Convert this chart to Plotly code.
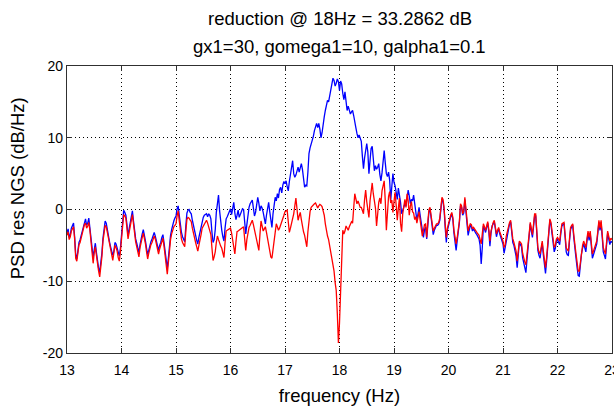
import numpy as np
import plotly.graph_objects as go

# Frequency grid of the PSD estimate (Hz)
freq_start = 13.0
freq_stop = 23.0
n_points = 501
freq = np.round(np.linspace(freq_start, freq_stop, n_points), 2)

# Residual NGS PSD without the vibration controller (dB/Hz), 0.02 Hz bins
psd_open = [
    -3.3, -2.7, -3.9, -3.5, -2.6, -2.1, -1.9, -3.8, -6.3, -6.9,
    -5.2, -4.6, -4.2, -3.6, -3.2, -2.3, -1.6, -1.3, -2.2, -1.9,
    -1.2, -2.5, -4.1, -5.8, -6.7, -5.6, -4.7, -6.0, -7.4, -8.2,
    -8.7, -7.6, -6.1, -4.0, -2.4, -1.6, -1.9, -2.9, -3.8, -4.5,
    -5.2, -5.8, -6.4, -5.8, -4.6, -4.8, -5.4, -6.2, -6.5, -5.4,
    -3.5, -1.5, -0.1, -0.4, -0.8, -2.1, -3.7, -2.7, -1.7, -0.8,
    -0.2, -1.6, -3.3, -4.1, -4.7, -5.6, -6.0, -4.9, -3.9, -3.4,
    -2.8, -3.5, -4.4, -5.4, -6.3, -5.7, -4.9, -4.5, -4.1, -3.5,
    -3.2, -3.7, -4.3, -5.2, -5.7, -5.0, -4.6, -3.9, -3.5, -4.6,
    -6.0, -7.3, -8.2, -6.8, -4.9, -3.6, -2.8, -2.1, -1.6, -1.2,
    -0.9, 0.1, 0.5, -0.8, -2.6, -3.2, -3.8, -4.2, -4.5, -2.3,
    -0.5, -0.1, 0.0, -0.4, -0.6, -1.5, -2.4, -3.1, -3.6, -4.3,
    -4.8, -3.9, -3.2, -2.3, -1.4, -1.1, -0.8, -0.7, -0.6, -1.0,
    -0.6, -0.8, -1.3, -3.2, -4.6, -4.2, -2.8, -0.4, 1.2, 2.0,
    -0.2, -1.8, -2.9, -3.8, -4.4, -2.6, -1.3, -1.0, -0.6, -0.2,
    0.1, -0.7, 0.4, 1.0, -0.5, -1.4, -0.8, -0.1, -1.1, -0.6,
    -0.3, 0.1, 0.0, -1.6, -3.4, -2.1, -0.6, 0.3, 0.8, 1.1,
    1.3, 0.2, -0.9, -0.4, 0.6, 1.7, 0.9, -0.2, 0.5, 0.2,
    -0.4, -1.1, -2.0, -0.8, 0.4, 1.0, -0.3, -1.5, -2.5, -0.6,
    0.4, 1.7, 1.2, 2.2, 1.6, 2.8, 3.1, 2.3, 3.4, 3.9,
    3.6, 4.0, 3.2, 2.6, 3.9, 5.1, 6.2, 6.8, 5.0, 4.5,
    4.8, 5.4, 5.9, 5.2, 6.0, 6.4, 5.6, 4.1, 3.1, 3.4,
    3.3, 5.2, 7.8, 8.6, 9.1, 9.6, 10.2, 11.0, 11.6, 12.0,
    11.4, 12.0, 11.2, 10.0, 10.7, 12.1, 12.9, 13.8, 14.6, 15.2,
    15.0, 15.8, 16.5, 17.4, 18.3, 18.0, 17.2, 17.6, 18.2, 17.8,
    16.6, 17.9, 17.5, 16.2, 15.3, 16.4, 14.5, 13.8, 14.4, 13.9,
    13.3, 13.6, 13.8, 13.1, 12.0, 11.4, 10.6, 10.0, 10.4, 9.8,
    9.5, 7.4, 5.7, 7.2, 8.6, 9.2, 8.0, 5.0, 6.8, 8.5,
    8.8, 7.0, 5.4, 6.1, 5.6, 5.9, 6.4, 4.9, 4.0, 5.1,
    7.4, 8.2, 6.5, 5.0, 4.6, 5.2, 4.1, 1.3, 3.2, 5.0,
    3.8, 3.3, 2.4, 1.4, 3.0, 2.2, 1.0, -0.6, -0.1, 0.5,
    0.8, 0.5, 1.5, 2.7, 1.9, 0.8, 1.4, 1.2, 2.0, 0.6,
    -0.4, -1.5, -0.6, 0.3, -0.8, -1.9, -3.2, -3.9, -2.8, -2.4,
    -4.1, -2.0, -0.4, 0.1, -1.0, -2.5, -3.5, -2.9, -2.5, -2.2,
    -2.2, -2.0, -1.5, 0.2, 1.5, 1.1, -0.1, -2.6, -4.6, -2.9,
    -2.1, -1.6, -1.0, -0.6, -1.4, -3.3, -4.4, -5.7, -4.3, -3.0,
    -1.8, 0.5, 0.3, -0.8, -0.5, 1.4, 0.1, -2.0, -3.6, -2.7,
    -2.2, -2.4, -3.0, -2.7, -3.1, -3.3, -3.5, -3.8, -4.1, -5.0,
    -7.6, -5.3, -2.3, -2.7, -3.2, -2.5, -1.9, -3.1, -5.1, -3.3,
    -2.3, -2.0, -1.7, -2.7, -3.8, -3.1, -2.7, -3.4, -4.0, -4.4,
    -4.8, -6.1, -5.3, -4.0, -3.2, -2.4, -2.0, -1.7, -3.2, -4.6,
    -5.0, -5.8, -6.5, -8.1, -6.4, -4.6, -4.9, -5.2, -6.7, -7.6,
    -8.0, -8.8, -7.0, -5.6, -3.7, -2.0, -3.0, -3.9, -2.4, -0.9,
    -0.9, -3.5, -5.7, -6.4, -6.8, -5.6, -4.7, -6.3, -7.9, -8.9,
    -7.2, -5.7, -3.4, -1.5, -2.1, -3.4, -4.6, -5.9, -5.4, -4.4,
    -4.2, -4.6, -4.9, -3.4, -2.3, -2.1, -2.0, -3.9, -5.9, -6.3,
    -6.4, -4.4, -2.8, -2.4, -2.3, -4.0, -5.8, -6.8, -8.1, -9.2,
    -9.3, -7.6, -6.2, -5.4, -4.8, -5.3, -5.9, -4.5, -3.3, -4.3,
    -3.3, -5.0, -6.8, -6.3, -5.7, -5.3, -4.8, -3.3, -1.8, -2.9,
    -1.8, -3.8, -5.9, -6.4, -6.9, -5.0, -3.3, -4.1, -4.9, -4.4,
    -4.6,
]

# Residual NGS PSD with the controller engaged (dB/Hz), same bins
psd_closed = [
    -3.6, -3.1, -4.2, -3.8, -3.0, -2.6, -2.4, -4.1, -6.8, -7.2,
    -5.6, -4.9, -4.6, -3.9, -3.6, -2.8, -2.1, -1.9, -2.6, -2.3,
    -1.8, -2.9, -4.5, -6.3, -7.5, -6.0, -5.2, -6.4, -7.9, -8.6,
    -9.4, -8.1, -6.6, -4.4, -2.9, -2.2, -2.4, -3.3, -4.2, -4.9,
    -5.6, -6.3, -7.1, -6.2, -5.0, -5.3, -5.8, -6.7, -7.2, -5.9,
    -4.0, -2.1, -0.7, -0.9, -1.2, -2.6, -4.1, -3.2, -2.2, -1.3,
    -0.7, -2.0, -3.8, -4.5, -5.2, -6.1, -6.6, -5.3, -4.4, -3.9,
    -3.3, -3.9, -4.8, -5.9, -6.9, -6.1, -5.4, -4.9, -4.6, -4.0,
    -3.7, -4.1, -4.8, -5.6, -6.2, -5.5, -5.0, -4.4, -4.0, -5.1,
    -6.5, -7.9, -9.0, -7.4, -5.5, -4.2, -3.4, -2.8, -2.4, -2.2,
    -2.0, -0.9, -0.2, -1.6, -3.5, -4.1, -4.6, -4.9, -5.2, -3.1,
    -1.4, -1.1, -1.2, -1.5, -1.7, -2.6, -3.4, -4.1, -4.6, -5.2,
    -5.8, -5.0, -4.4, -3.5, -2.6, -2.3, -2.0, -1.7, -1.5, -1.9,
    -2.4, -2.9, -3.5, -5.4, -7.1, -6.6, -5.9, -4.6, -3.7, -4.2,
    -4.8, -5.1, -5.4, -6.0, -6.7, -4.6, -3.0, -2.9, -2.8, -2.7,
    -2.6, -3.3, -4.2, -5.3, -6.2, -4.5, -3.1, -3.0, -2.9, -2.8,
    -2.7, -2.5, -2.4, -4.1, -5.7, -4.2, -2.9, -2.5, -2.2, -1.8,
    -1.5, -2.1, -2.8, -3.4, -3.9, -4.9, -5.7, -3.5, -1.6, -2.3,
    -3.0, -2.7, -2.4, -3.2, -4.1, -5.2, -6.2, -6.6, -6.8, -5.5,
    -4.3, -3.1, -2.0, -2.4, -2.9, -2.6, -2.2, -1.8, -1.4, -0.8,
    -0.3, -0.2, -0.1, -1.7, -3.2, -2.6, -2.0, -1.3, -0.6, 0.5,
    1.6, 0.1, -1.5, -0.9, -0.4, -1.4, -2.5, -3.1, -3.6, -4.4,
    -5.2, -3.1, -1.0, -0.3, 0.3, 0.5, 0.6, 0.8, 0.9, 0.5,
    0.2, 0.5, 0.7, 0.6, 0.4, -0.2, -0.8, -2.0, -3.2, -3.7,
    -4.2, -5.0, -5.9, -6.6, -7.4, -8.6, -10.2, -11.3, -14.5, -18.6,
    -15.8, -10.4, -5.3, -2.9, -3.4, -3.0, -2.3, -2.6, -2.9, -2.4,
    -2.0, -1.7, -1.9, 0.6, 2.2, 1.5, 0.8, 1.2, 0.6, 0.3,
    0.3, -0.2, -0.6, 1.4, 2.7, 1.1, -0.4, -1.1, 1.2, 3.0,
    3.7, 2.2, 1.0, 0.2, -2.3, -0.6, 1.0, 1.6, 0.8, 2.6,
    3.2, 4.0, 1.2, -2.9, -0.5, 1.8, 2.5, 0.9, 1.3, -0.4,
    1.1, 2.4, 0.6, -1.5, 0.2, 1.6, -1.9, -3.1, -0.6, 0.5,
    1.4, 0.3, 2.2, 1.2, -0.8, 0.5, 1.1, -0.3, -0.5, -1.4,
    -1.0, -1.9, -0.8, -0.3, -1.5, -2.6, -3.7, -2.9, -2.1, -2.0,
    -3.9, -1.8, -0.1, 0.3, -0.8, -2.2, -3.0, -2.6, -2.3, -2.0,
    -2.0, -1.8, -1.2, 0.4, 1.7, 1.4, 0.2, -2.1, -3.9, -2.6,
    -1.9, -1.4, -0.8, -0.4, -1.1, -2.9, -3.8, -4.8, -3.9, -2.8,
    -1.6, 0.8, 0.5, -0.6, -0.2, 1.7, 0.4, -1.6, -3.0, -2.4,
    -2.0, -2.1, -2.7, -2.5, -2.8, -3.0, -3.2, -3.4, -3.6, -4.2,
    -4.8, -3.4, -2.0, -2.4, -2.9, -2.3, -1.7, -2.8, -4.4, -3.0,
    -2.1, -1.8, -1.5, -2.4, -3.4, -2.9, -2.5, -3.1, -3.6, -3.9,
    -4.4, -5.3, -4.9, -3.7, -3.0, -2.2, -1.8, -1.5, -2.9, -4.1,
    -4.6, -5.3, -5.8, -7.2, -6.0, -4.4, -4.6, -4.8, -6.1, -6.9,
    -7.3, -7.7, -6.5, -5.3, -3.4, -1.8, -2.7, -3.5, -2.1, -0.6,
    -0.6, -3.2, -5.3, -5.9, -6.2, -5.3, -4.4, -5.8, -7.2, -8.1,
    -6.7, -5.3, -3.1, -1.3, -1.8, -3.0, -4.1, -5.3, -5.0, -4.1,
    -3.9, -4.2, -4.4, -3.1, -2.0, -1.9, -1.8, -3.5, -5.3, -5.6,
    -5.8, -4.1, -2.5, -2.2, -2.0, -3.6, -5.3, -6.2, -7.4, -8.6,
    -8.6, -7.1, -5.8, -5.0, -4.4, -4.8, -5.3, -4.1, -3.0, -3.9,
    -3.0, -4.6, -6.2, -5.8, -5.3, -4.9, -4.4, -3.0, -1.5, -2.6,
    -1.5, -3.4, -5.3, -5.8, -6.2, -4.6, -3.0, -3.7, -4.4, -4.0,
    -4.2,
]

x_ticks = [13, 14, 15, 16, 17, 18, 19, 20, 21, 22, 23]
y_ticks = [-20, -10, 0, 10, 20]

title_line1 = "reduction @ 18Hz = 33.2862 dB"
title_line2 = "gx1=30, gomega1=10, galpha1=0.1"
x_label = "frequency (Hz)"
y_label = "PSD res NGS (dB/Hz)"

FONT = "Liberation Sans, Arial, sans-serif"
AXIS_COLOR = "#303030"
LABEL_SIZE = 18.5

fig = go.Figure()
fig.add_trace(go.Scatter(x=freq, y=psd_open, mode="lines",
                         line=dict(color="#0000ff", width=1.3),
                         showlegend=False))
fig.add_trace(go.Scatter(x=freq, y=psd_closed, mode="lines",
                         line=dict(color="#ff0000", width=1.3),
                         showlegend=False))

axis_common = dict(
    showline=True, linecolor=AXIS_COLOR, linewidth=1.2, mirror="ticks",
    ticks="inside", ticklen=5, tickcolor=AXIS_COLOR, tickwidth=1,
    showgrid=True, gridcolor="#000000", gridwidth=1, griddash="1px,3px",
    zeroline=False, ticklabeloverflow="allow", automargin=False,
    tickfont=dict(family=FONT, size=14, color="#000000"),
)

fig.update_xaxes(range=[13, 23], tickvals=x_ticks,
                 ticktext=[str(t) for t in x_ticks],
                 ticklabelstandoff=4,
                 title=dict(text=x_label, standoff=12,
                            font=dict(family=FONT, size=LABEL_SIZE,
                                      color="#000000")),
                 **axis_common)
fig.update_yaxes(range=[-20, 20], tickvals=y_ticks,
                 ticktext=[str(t) for t in y_ticks],
                 **axis_common)

# y-axis label, placed as rotated text left of the tick labels
fig.add_annotation(text=y_label, x=-0.0894, y=0.575, xref="paper",
                   yref="paper", xanchor="center", yanchor="middle",
                   textangle=-90, showarrow=False,
                   font=dict(family=FONT, size=LABEL_SIZE, color="#000000"))

for text, shift in ((title_line1, 48), (title_line2, 20)):
    fig.add_annotation(text=text, x=0.5, y=1, xref="paper", yref="paper",
                       xanchor="center", yanchor="middle", yshift=shift,
                       showarrow=False,
                       font=dict(family=FONT, size=LABEL_SIZE,
                                 color="#000000"))

fig.update_layout(
    width=614, height=406,
    margin=dict(l=67, r=2, t=66, b=53, pad=0),
    paper_bgcolor="#ffffff", plot_bgcolor="#ffffff",
    font=dict(family=FONT, color="#000000"),
)

fig.write_html("out.html")
